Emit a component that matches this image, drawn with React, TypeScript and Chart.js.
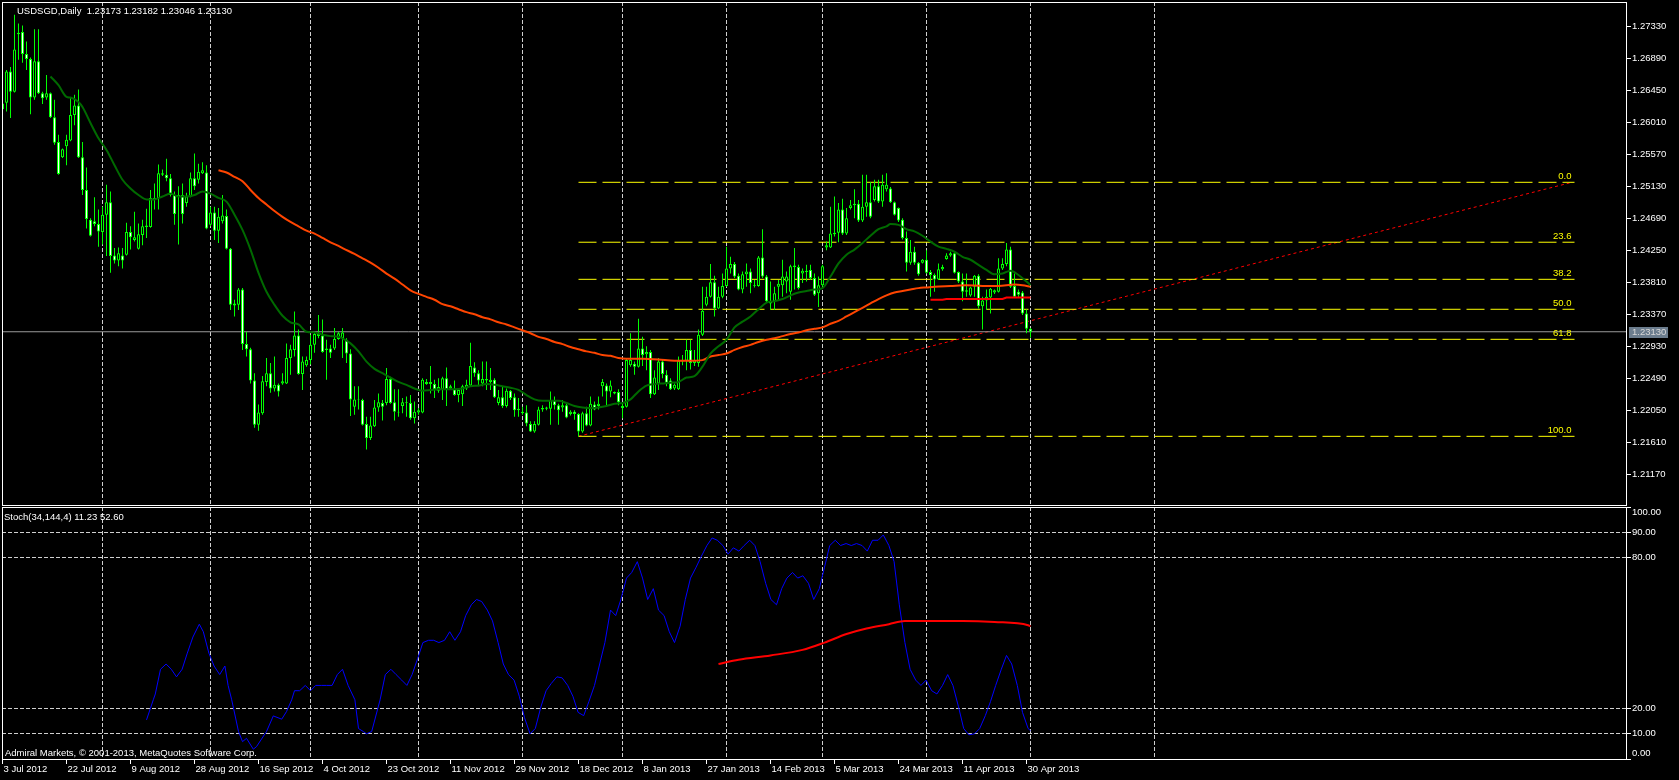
import React, { useEffect, useRef } from 'react';
import { Chart, registerables } from 'chart.js';

Chart.register(...registerables);

const FONT_FAMILY = '"Liberation Sans", Arial, sans-serif';
const FONT_SIZE = 9.5;
const GRID = '#cfcfcf';
const GRID_DASH = [4, 2];

// ---------- candles (one per trading day, bar index 0 = 3 Jul 2012) ----------
const barOpen = [
  1.2619,1.2628,1.2671,1.2643,1.2722,1.2725,1.2695,1.2688,1.2635,1.2685,
  1.2641,1.2635,1.2641,1.2608,1.2574,1.2553,1.2568,1.2576,1.2611,1.2624,
  1.2553,1.2508,1.2467,1.2465,1.2461,1.2450,1.2474,1.2491,1.2418,1.2411,
  1.2418,1.2419,1.2450,1.2439,1.2427,1.2446,1.2457,1.2457,1.2494,1.2497,
  1.2529,1.2529,1.2524,1.2501,1.2499,1.2501,1.2490,1.2499,1.2524,1.2522,
  1.2531,1.2532,1.2460,1.2477,1.2452,1.2465,1.2472,1.2427,1.2349,1.2350,
  1.2371,1.2296,1.2289,1.2246,1.2185,1.2201,1.2244,1.2256,1.2235,1.2240,
  1.2242,1.2242,1.2277,1.2288,1.2308,1.2255,1.2267,1.2274,1.2295,1.2307,
  1.2308,1.2288,1.2290,1.2290,1.2303,1.2304,1.2302,1.2283,1.2210,1.2220,
  1.2219,1.2186,1.2167,1.2183,1.2209,1.2215,1.2215,1.2248,1.2216,1.2203,
  1.2211,1.2216,1.2215,1.2194,1.2202,1.2202,1.2244,1.2241,1.2241,1.2232,
  1.2234,1.2249,1.2235,1.2234,1.2226,1.2227,1.2235,1.2239,1.2264,1.2256,
  1.2242,1.2246,1.2244,1.2247,1.2215,1.2223,1.2211,1.2232,1.2223,1.2205,
  1.2203,1.2202,1.2186,1.2176,1.2185,1.2206,1.2207,1.2207,1.2219,1.2212,
  1.2209,1.2212,1.2200,1.2203,1.2200,1.2176,1.2201,1.2184,1.2213,1.2211,
  1.2238,1.2239,1.2231,1.2230,1.2230,1.2208,1.2210,1.2267,1.2269,1.2265,
  1.2290,1.2282,1.2285,1.2227,1.2242,1.2272,1.2254,1.2246,1.2235,1.2234,
  1.2272,1.2273,1.2288,1.2270,1.2270,1.2309,1.2350,1.2361,1.2381,1.2345,
  1.2361,1.2376,1.2400,1.2406,1.2390,1.2371,1.2392,1.2396,1.2377,1.2376,
  1.2415,1.2389,1.2352,1.2355,1.2375,1.2377,1.2382,1.2368,1.2402,1.2402,
  1.2393,1.2395,1.2398,1.2387,1.2366,1.2377,1.2429,1.2429,1.2447,1.2449,
  1.2481,1.2448,1.2483,1.2487,1.2489,1.2466,1.2485,1.2491,1.2494,1.2513,
  1.2492,1.2509,1.2510,1.2491,1.2483,1.2467,1.2442,1.2408,1.2423,1.2408,
  1.2408,1.2412,1.2395,1.2391,1.2385,1.2399,1.2413,1.2418,1.2421,1.2395,
  1.2382,1.2368,1.2363,1.2375,1.2390,1.2348,1.2356,1.2360,1.2367,1.2368,
  1.2400,1.2406,1.2426,1.2376,1.2368,1.2367,1.2338,1.23173,
];
const barHigh = [
  1.2630,1.2673,1.2677,1.2749,1.2737,1.2734,1.2712,1.2690,1.2729,1.2729,
  1.2643,1.2666,1.2642,1.2632,1.2584,1.2565,1.2584,1.2634,1.2639,1.2646,
  1.2574,1.2539,1.2469,1.2498,1.2481,1.2485,1.2515,1.2506,1.2428,1.2429,
  1.2428,1.2463,1.2458,1.2478,1.2462,1.2467,1.2482,1.2508,1.2517,1.2543,
  1.2536,1.2551,1.2530,1.2506,1.2513,1.2517,1.2504,1.2532,1.2558,1.2544,
  1.2546,1.2542,1.2485,1.2485,1.2483,1.2501,1.2481,1.2428,1.2357,1.2373,
  1.2373,1.2313,1.2291,1.2256,1.2213,1.2252,1.2277,1.2270,1.2279,1.2242,
  1.2256,1.2297,1.2295,1.2341,1.2316,1.2279,1.2279,1.2309,1.2312,1.2336,
  1.2330,1.2302,1.2295,1.2318,1.2313,1.2318,1.2304,1.2289,1.2238,1.2238,
  1.2221,1.2196,1.2196,1.2219,1.2228,1.2219,1.2263,1.2251,1.2234,1.2234,
  1.2222,1.2224,1.2226,1.2217,1.2208,1.2249,1.2248,1.2266,1.2247,1.2249,
  1.2251,1.2264,1.2240,1.2246,1.2235,1.2240,1.2247,1.2298,1.2271,1.2260,
  1.2272,1.2272,1.2263,1.2249,1.2233,1.2238,1.2235,1.2233,1.2228,1.2222,
  1.2210,1.2212,1.2190,1.2190,1.2210,1.2212,1.2210,1.2231,1.2224,1.2214,
  1.2219,1.2214,1.2205,1.2205,1.2201,1.2203,1.2210,1.2224,1.2217,1.2224,
  1.2248,1.2242,1.2246,1.2231,1.2234,1.2214,1.2277,1.2311,1.2272,1.2331,
  1.2306,1.2293,1.2288,1.2260,1.2277,1.2274,1.2260,1.2249,1.2242,1.2279,
  1.2281,1.2302,1.2302,1.2288,1.2316,1.2375,1.2375,1.2406,1.2390,1.2375,
  1.2393,1.2430,1.2416,1.2409,1.2393,1.2396,1.2407,1.2400,1.2384,1.2417,
  1.2454,1.2391,1.2382,1.2375,1.2384,1.2412,1.2396,1.2405,1.2428,1.2405,
  1.2400,1.2405,1.2405,1.2393,1.2389,1.2405,1.2437,1.2485,1.2499,1.2490,
  1.2496,1.2483,1.2494,1.2509,1.2494,1.2529,1.2529,1.2519,1.2522,1.2522,
  1.2529,1.2531,1.2512,1.2492,1.2484,1.2469,1.2451,1.2439,1.2430,1.2409,
  1.2413,1.2425,1.2398,1.2393,1.2407,1.2405,1.2421,1.2423,1.2423,1.2396,
  1.2393,1.2393,1.2375,1.2391,1.2392,1.2361,1.2371,1.2373,1.2371,1.2414,
  1.2414,1.2435,1.2430,1.2393,1.2371,1.2369,1.2344,1.23182,
];
const barLow = [
  1.2618,1.2616,1.2607,1.2642,1.2687,1.2683,1.2673,1.2612,1.2632,1.2640,
  1.2626,1.2632,1.2607,1.2570,1.2529,1.2552,1.2542,1.2575,1.2597,1.2552,
  1.2501,1.2455,1.2444,1.2458,1.2430,1.2433,1.2417,1.2394,1.2407,1.2403,
  1.2400,1.2418,1.2426,1.2437,1.2426,1.2432,1.2442,1.2456,1.2481,1.2481,
  1.2527,1.2520,1.2499,1.2460,1.2433,1.2462,1.2485,1.2498,1.2508,1.2517,
  1.2530,1.2454,1.2458,1.2439,1.2435,1.2462,1.2426,1.2343,1.2334,1.2343,
  1.2288,1.2279,1.2242,1.2181,1.2177,1.2199,1.2238,1.2229,1.2231,1.2224,
  1.2240,1.2241,1.2254,1.2279,1.2254,1.2233,1.2265,1.2268,1.2284,1.2304,
  1.2284,1.2247,1.2277,1.2288,1.2302,1.2277,1.2270,1.2197,1.2199,1.2206,
  1.2184,1.2151,1.2164,1.2182,1.2203,1.2191,1.2212,1.2214,1.2191,1.2196,
  1.2201,1.2196,1.2192,1.2187,1.2199,1.2201,1.2240,1.2228,1.2222,1.2229,
  1.2219,1.2211,1.2233,1.2225,1.2216,1.2211,1.2233,1.2238,1.2251,1.2238,
  1.2238,1.2233,1.2233,1.2222,1.2212,1.2208,1.2209,1.2219,1.2196,1.2196,
  1.2199,1.2183,1.2175,1.2174,1.2184,1.2203,1.2205,1.2185,1.2206,1.2185,
  1.2203,1.2194,1.2198,1.2192,1.2169,1.2174,1.2183,1.2183,1.2205,1.2206,
  1.2224,1.2211,1.2223,1.2227,1.2212,1.2194,1.2209,1.2265,1.2254,1.2264,
  1.2266,1.2260,1.2222,1.2226,1.2233,1.2249,1.2238,1.2233,1.2233,1.2233,
  1.2267,1.2260,1.2261,1.2266,1.2265,1.2307,1.2348,1.2360,1.2334,1.2344,
  1.2359,1.2375,1.2393,1.2387,1.2370,1.2366,1.2375,1.2366,1.2374,1.2375,
  1.2387,1.2353,1.2343,1.2343,1.2357,1.2361,1.2366,1.2357,1.2371,1.2371,
  1.2380,1.2382,1.2384,1.2362,1.2347,1.2375,1.2425,1.2428,1.2444,1.2436,
  1.2446,1.2446,1.2481,1.2469,1.2464,1.2464,1.2471,1.2469,1.2492,1.2490,
  1.2485,1.2506,1.2490,1.2473,1.2464,1.2440,1.2396,1.2405,1.2405,1.2390,
  1.2407,1.2393,1.2361,1.2368,1.2384,1.2397,1.2412,1.2416,1.2393,1.2380,
  1.2355,1.2361,1.2361,1.2361,1.2345,1.2316,1.2343,1.2338,1.2365,1.2367,
  1.2398,1.2403,1.2373,1.2360,1.2360,1.2336,1.2311,1.23046,
];
const barClose = [
  1.2627,1.2671,1.2643,1.2701,1.2724,1.2695,1.2688,1.2635,1.2685,1.2641,
  1.2634,1.2641,1.2608,1.2573,1.2530,1.2564,1.2577,1.2611,1.2624,1.2553,
  1.2508,1.2468,1.2445,1.2461,1.2451,1.2474,1.2491,1.2417,1.2411,1.2421,
  1.2411,1.2450,1.2443,1.2443,1.2447,1.2458,1.2459,1.2497,1.2497,1.2531,
  1.2531,1.2524,1.2501,1.2475,1.2501,1.2475,1.2499,1.2524,1.2513,1.2533,
  1.2535,1.2455,1.2477,1.2452,1.2471,1.2473,1.2427,1.2350,1.2352,1.2371,
  1.2296,1.2289,1.2246,1.2185,1.2202,1.2245,1.2256,1.2235,1.2240,1.2231,
  1.2245,1.2277,1.2289,1.2308,1.2255,1.2272,1.2274,1.2295,1.2310,1.2310,
  1.2285,1.2290,1.2284,1.2303,1.2311,1.2312,1.2283,1.2220,1.2220,1.2219,
  1.2185,1.2167,1.2184,1.2209,1.2216,1.2210,1.2248,1.2215,1.2203,1.2202,
  1.2216,1.2215,1.2194,1.2203,1.2205,1.2247,1.2241,1.2244,1.2234,1.2237,
  1.2249,1.2234,1.2238,1.2226,1.2233,1.2238,1.2240,1.2266,1.2256,1.2246,
  1.2248,1.2248,1.2247,1.2223,1.2223,1.2211,1.2232,1.2222,1.2205,1.2207,
  1.2201,1.2187,1.2176,1.2186,1.2206,1.2208,1.2209,1.2219,1.2212,1.2205,
  1.2212,1.2195,1.2203,1.2200,1.2176,1.2201,1.2184,1.2214,1.2206,1.2214,
  1.2244,1.2231,1.2239,1.2228,1.2216,1.2211,1.2274,1.2274,1.2265,1.2290,
  1.2281,1.2285,1.2227,1.2250,1.2272,1.2255,1.2243,1.2234,1.2240,1.2273,
  1.2274,1.2288,1.2270,1.2274,1.2309,1.2342,1.2361,1.2381,1.2345,1.2361,
  1.2376,1.2400,1.2406,1.2389,1.2371,1.2392,1.2396,1.2380,1.2376,1.2415,
  1.2389,1.2355,1.2355,1.2366,1.2379,1.2389,1.2389,1.2403,1.2404,1.2373,
  1.2397,1.2397,1.2387,1.2364,1.2377,1.2403,1.2432,1.2448,1.2449,1.2481,
  1.2448,1.2469,1.2487,1.2489,1.2466,1.2485,1.2491,1.2471,1.2513,1.2492,
  1.2515,1.2515,1.2491,1.2474,1.2466,1.2442,1.2408,1.2423,1.2408,1.2392,
  1.2412,1.2394,1.2391,1.2385,1.2399,1.2402,1.2418,1.2421,1.2394,1.2382,
  1.2368,1.2370,1.2374,1.2390,1.2348,1.2356,1.2361,1.2372,1.2370,1.2400,
  1.2406,1.2426,1.2375,1.2361,1.2364,1.2338,1.2317,1.23130,
];

// ---------- moving averages: [bar, price] ----------
const maFast = [
  [12,1.2664],[14,1.2652],[16,1.2636],[17,1.2635],[19,1.2629],[20,1.2622],[22,1.2600],[24,1.2579],
  [26,1.2563],[28,1.2542],[30,1.2522],[32,1.2510],[34,1.2501],[36,1.2495],[38,1.2495],[40,1.2499],
  [42,1.2503],[44,1.2499],[46,1.2499],[48,1.2501],[50,1.2506],[52,1.2503],[54,1.2497],[56,1.2492],
  [58,1.2474],[60,1.2453],[62,1.2426],[64,1.2394],[66,1.2368],[68,1.2350],[70,1.2335],[72,1.2326],
  [74,1.2323],[76,1.2313],[78,1.2312],[80,1.2309],[82,1.2307],[84,1.2306],[85,1.2304],[87,1.2297],
  [89,1.2286],[91,1.2272],[93,1.2262],[95,1.2256],[97,1.2250],[99,1.2244],[101,1.2240],[103,1.2235],
  [105,1.2232],[107,1.2233],[109,1.2234],[111,1.2234],[113,1.2234],[115,1.2235],[117,1.2238],[119,1.2239],
  [121,1.2241],[123,1.2240],[125,1.2238],[127,1.2236],[129,1.2233],[131,1.2226],[133,1.2220],[135,1.2218],
  [137,1.2218],[139,1.2218],[141,1.2215],[143,1.2211],[145,1.2209],[147,1.2208],[149,1.2209],[151,1.2211],
  [153,1.2214],[155,1.2215],[157,1.2220],[159,1.2231],[161,1.2239],[163,1.2241],[165,1.2242],[167,1.2243],
  [169,1.2244],[171,1.2250],[173,1.2252],[175,1.2265],[177,1.2283],[179,1.2293],[181,1.2302],[183,1.2319],
  [185,1.2327],[187,1.2334],[189,1.2344],[191,1.2353],[193,1.2355],[195,1.2358],[197,1.2363],[199,1.2367],
  [201,1.2369],[203,1.2371],[205,1.2373],[207,1.2389],[209,1.2407],[211,1.2419],[213,1.2426],[215,1.2435],
  [217,1.2445],[219,1.2454],[221,1.2458],[222,1.2461],[224,1.2460],[226,1.2454],[228,1.2451],[230,1.2445],
  [232,1.2437],[234,1.2430],[236,1.2427],[238,1.2423],[240,1.2416],[242,1.2412],[244,1.2405],[246,1.2398],
  [248,1.2392],[250,1.2393],[252,1.2397],[254,1.2391],[256,1.2382],[257,1.2377],
];
const maMid = [
  [54,1.2535],[56,1.2532],[58,1.2526],[60,1.2520],[62,1.2508],[64,1.2497],[66,1.2488],[68,1.2479],
  [70,1.2471],[72,1.2464],[74,1.2458],[76,1.2452],[78,1.2448],[80,1.2442],[82,1.2436],[84,1.2431],
  [85,1.2428],[88,1.2420],[90,1.2414],[92,1.2408],[94,1.2401],[96,1.2393],[98,1.2386],[100,1.2378],
  [102,1.2370],[104,1.2365],[106,1.2361],[108,1.2357],[110,1.2351],[112,1.2348],[114,1.2344],[116,1.2340],
  [118,1.2337],[120,1.2333],[122,1.2330],[124,1.2326],[126,1.2323],[128,1.2319],[130,1.2315],[132,1.2311],
  [134,1.2306],[136,1.2303],[138,1.2299],[140,1.2296],[142,1.2292],[144,1.2289],[146,1.2286],[148,1.2284],
  [150,1.2281],[152,1.2280],[154,1.2277],[156,1.2276],[160,1.2276],[164,1.2275],[168,1.2273],[172,1.2273],
  [175,1.2274],[177,1.2279],[179,1.2281],[181,1.2283],[183,1.2288],[185,1.2292],[187,1.2295],[189,1.2299],
  [191,1.2302],[193,1.2304],[195,1.2307],[197,1.2310],[199,1.2312],[201,1.2315],[203,1.2317],[205,1.2319],
  [207,1.2324],[209,1.2328],[211,1.2334],[213,1.2340],[215,1.2346],[217,1.2352],[219,1.2358],[221,1.2363],
  [223,1.2367],[225,1.2369],[227,1.2371],[229,1.2373],[231,1.2374],[233,1.2375],[237,1.2376],[241,1.2377],
  [245,1.2376],[249,1.2376],[253,1.2378],[255,1.2377],[257,1.2375],
];
const maSlow = [
  [232,1.2357],[235,1.2357],[236,1.2358],[250,1.2358],[251,1.2360],[257,1.2360],
];

// ---------- Stochastic(34,144,4): [bar, value] ----------
const stochMain = [
  [36.0,15.5],[37.7,23.5],[38.2,25.8],[39.5,35.6],[40.9,37.7],[42.2,35.6],[43.5,32.6],[44.9,35.6],
  [46.2,42.0],[47.6,48.4],[49.2,53.5],[50.2,50.5],[51.6,42.0],[52.9,36.9],[54.3,33.5],[55.6,36.9],
  [56.4,29.2],[57.3,23.5],[59.0,10.9],[60.0,6.9],[61.0,8.2],[62.7,3.9],[63.5,4.9],[66.0,10.9],
  [67.7,17.1],[69.8,15.8],[71.0,18.8],[72.3,23.5],[73.0,27.1],[74.3,27.1],[75.7,29.2],[77.0,27.1],
  [78.3,29.2],[79.7,29.2],[81.0,29.2],[82.4,29.2],[83.7,33.5],[85.0,35.6],[86.4,29.2],[88.1,23.5],
  [89.0,12.1],[90.2,10.9],[91.0,10.0],[92.3,10.9],[94.4,23.5],[95.7,33.5],[97.1,35.6],[98.4,33.5],
  [99.8,31.3],[101.1,29.2],[102.4,33.5],[103.8,39.9],[105.1,46.2],[106.5,47.1],[107.8,47.1],[109.1,46.2],
  [110.5,47.1],[111.8,50.5],[113.1,47.1],[114.5,50.5],[115.8,56.9],[117.2,61.2],[118.5,63.3],[119.8,62.5],
  [121.2,59.1],[122.5,54.8],[123.9,46.2],[125.2,37.7],[126.5,33.5],[127.9,31.3],[129.2,24.9],[130.5,16.4],
  [131.9,10.0],[133.2,12.1],[134.6,20.7],[135.9,27.1],[137.2,30.0],[138.6,32.6],[139.9,32.2],[141.3,29.2],
  [142.6,24.9],[143.9,18.5],[145.3,17.2],[146.6,22.8],[148.0,29.2],[149.3,37.7],[150.6,46.2],[152.0,59.1],
  [153.3,56.9],[154.6,63.3],[156.0,71.8],[157.3,74.0],[158.7,78.3],[160.0,71.8],[161.3,63.3],[162.7,67.6],
  [164.0,59.1],[165.4,56.9],[166.7,50.5],[168.0,46.2],[169.4,52.7],[170.7,63.3],[172.0,71.8],[173.4,76.1],
  [174.7,80.4],[176.1,84.7],[177.4,87.7],[178.7,86.8],[180.1,84.7],[181.4,81.3],[182.7,83.8],[184.1,82.5],
  [185.4,84.7],[186.8,86.8],[188.1,84.7],[189.4,78.3],[190.8,69.7],[192.1,63.3],[193.5,61.2],[194.8,67.6],
  [196.1,71.8],[197.5,74.0],[198.8,71.8],[200.1,72.7],[201.5,69.7],[202.8,63.3],[204.2,67.6],[205.5,76.1],
  [206.8,84.7],[208.2,86.8],[209.5,84.7],[210.9,85.5],[212.2,84.7],[213.5,85.5],[214.9,84.7],[216.2,82.5],
  [217.5,86.8],[218.9,86.8],[220.2,88.9],[221.6,84.7],[222.9,78.3],[224.2,61.2],[225.6,46.2],[226.9,35.6],
  [228.3,31.3],[229.6,29.2],[230.9,31.3],[232.3,27.1],[233.6,25.8],[235.0,29.2],[236.3,33.5],[237.6,29.2],
  [239.0,20.7],[240.3,12.1],[241.6,9.6],[243.0,10.0],[244.3,12.1],[245.7,17.2],[247.0,22.8],[248.3,29.2],
  [249.7,35.6],[251.0,41.1],[252.3,37.7],[253.7,29.2],[255.0,18.5],[256.4,12.1],[257.0,11.23],
];
const stochSignal = [
  [179,37.7],[184,39.4],[192,41.1],[200,43.3],[205.5,46.2],[211,49.6],[216,51.8],[221.6,53.5],
  [225.6,54.8],[232,54.8],[240,54.8],[248,54.4],[256.4,53.1],[257,52.6],
];

// ---------- axes ----------
const dateTickBars = [0,16,32,48,64,80,96,112,128,144,160,176,192,208,224,240,256];
const dateTickLabels = [
  '3 Jul 2012','22 Jul 2012','9 Aug 2012','28 Aug 2012','16 Sep 2012','4 Oct 2012',
  '23 Oct 2012','11 Nov 2012','29 Nov 2012','18 Dec 2012','8 Jan 2013','27 Jan 2013',
  '14 Feb 2013','5 Mar 2013','24 Mar 2013','11 Apr 2013','30 Apr 2013',
];
const monthGridBars = [25,52,77,104,130,155,181,205,231,257,288];
const priceTicks = [1.2733,1.2689,1.2645,1.2601,1.2557,1.2513,1.2469,1.2425,1.2381,1.2337,1.2293,1.2249,1.2205,1.2161,1.2117];
const stochTicks = [100,90,80,20,10,0];
const stochLevels = [90,80,20,10];

// ---------- objects ----------
const fibLabels = ['0.0','23.6','38.2','50.0','61.8','100.0'];
const fibPrices = [1.25185,1.24361,1.23851,1.23439,1.23026,1.21692];
const fibStartBar = 144;
const fibEndBar = 393;
const trendLine = [[144,1.21692],[392.4,1.25185]];
const bidPrice = 1.2313;

const titleText = 'USDSGD,Daily  1.23173 1.23182 1.23046 1.23130';
const stochTitle = 'Stoch(34,144,4) 11.23 52.60';
const copyright = 'Admiral Markets, \u00A9 2001-2013, MetaQuotes Software Corp.';

const X_MIN = -0.125;
const X_MAX = 406.125;
const Y_MIN = 1.20748;
const Y_MAX = 1.27664;

const tickFont = { family: FONT_FAMILY, size: FONT_SIZE };
const fontStr = `${FONT_SIZE}px ${FONT_FAMILY}`;

const pts = (arr: number[][]) => arr.map(([x, y]) => ({ x, y }));

const mainDecor = {
  id: 'mainDecor',
  afterDraw(chart: any) {
    const { ctx, chartArea: a, scales } = chart;
    const xs = scales.x, ys = scales.y;
    ctx.save();
    ctx.setLineDash([]);
    ctx.strokeStyle = '#ffffff';
    ctx.lineWidth = 1;
    ctx.strokeRect(a.left + 0.5, a.top + 0.5, a.right - a.left - 1, a.bottom - a.top);
    ctx.font = fontStr;
    ctx.fillStyle = '#ffffff';
    ctx.textAlign = 'left';
    ctx.textBaseline = 'alphabetic';
    ctx.fillText(titleText, 17, 13.5);
    // fibo labels
    ctx.fillStyle = '#ffff00';
    ctx.textAlign = 'right';
    const fx = xs.getPixelForValue(fibEndBar) - 3;
    fibPrices.forEach((p, i) => {
      ctx.fillText(fibLabels[i], fx, ys.getPixelForValue(p) - 3);
    });
    // bid label on the axis
    const by = Math.round(ys.getPixelForValue(bidPrice));
    ctx.fillStyle = '#6c7d8e';
    ctx.fillRect(a.right + 2, by - 5, 39, 11);
    ctx.fillStyle = '#d8d8d8';
    ctx.textAlign = 'left';
    ctx.textBaseline = 'middle';
    ctx.fillText(bidPrice.toFixed(5), a.right + 5, by + 0.5);
    ctx.restore();
  },
};

const stochDecor = {
  id: 'stochDecor',
  afterDraw(chart: any) {
    const { ctx, chartArea: a, scales } = chart;
    const ys = scales.y;
    ctx.save();
    ctx.setLineDash([]);
    ctx.strokeStyle = '#ffffff';
    ctx.lineWidth = 1;
    ctx.strokeRect(a.left + 0.5, a.top + 0.5, a.right - a.left - 1, a.bottom - a.top);
    ctx.font = fontStr;
    ctx.fillStyle = '#ffffff';
    ctx.textAlign = 'left';
    ctx.textBaseline = 'middle';
    ctx.fillText('100.00', a.right + 5, ys.getPixelForValue(100) + 5.5);
    ctx.fillText('0.00', a.right + 5, ys.getPixelForValue(0) - 6);
    ctx.textBaseline = 'alphabetic';
    ctx.fillText(stochTitle, 4, a.top + 13);
    ctx.fillText(copyright, 5, a.bottom - 3);
    ctx.restore();
  },
};

function monthGridAxis(position: string) {
  return {
    type: 'linear',
    position,
    min: X_MIN,
    max: X_MAX,
    offset: false,
    afterBuildTicks: (s: any) => { s.ticks = monthGridBars.map((v) => ({ value: v })); },
    afterFit: (s: any) => { s.height = 0; s.paddingLeft = 0; s.paddingRight = 0; },
    ticks: { display: false },
    grid: { display: true, offset: false, color: GRID, lineWidth: 1, drawTicks: false, drawOnChartArea: true, borderDash: GRID_DASH },
    border: { display: false, dash: GRID_DASH },
  };
}

function buildMain(canvas: HTMLCanvasElement) {
  const bodies = barOpen.map((o, i) => ({ x: i, y: [o, barClose[i]] }));
  const bodyColors = barOpen.map((o, i) => (barClose[i] >= o ? '#000000' : '#ffffff'));
  const wicks = barOpen.map((o, i) => ({
    x: i,
    y: [Math.min(barLow[i], o, barClose[i]), Math.max(barHigh[i], o, barClose[i])],
  }));
  const datasets: any[] = [
    { type: 'line', data: pts(maFast), borderColor: '#006a00', borderWidth: 2, pointRadius: 0, cubicInterpolationMode: 'monotone', order: 1 },
    { type: 'line', data: pts(maMid), borderColor: '#ff4500', borderWidth: 2, pointRadius: 0, cubicInterpolationMode: 'monotone', order: 2 },
    { type: 'line', data: pts(maSlow), borderColor: '#ff0000', borderWidth: 2, pointRadius: 0, order: 3 },
    { type: 'bar', data: bodies, backgroundColor: bodyColors, borderColor: '#00ff00', borderWidth: 1, borderSkipped: false, barThickness: 3, grouped: false, inflateAmount: 0, order: 4 },
    { type: 'bar', data: wicks, backgroundColor: '#00ff00', borderWidth: 0, barThickness: 1, grouped: false, inflateAmount: 0, order: 5 },
    { type: 'line', data: [{ x: X_MIN, y: bidPrice }, { x: X_MAX, y: bidPrice }], borderColor: '#9a9a9a', borderWidth: 1, pointRadius: 0, order: 6 },
    ...fibPrices.map((p) => ({
      type: 'line', data: [{ x: fibStartBar, y: p }, { x: fibEndBar, y: p }],
      borderColor: '#ffff00', borderWidth: 1, borderDash: [18, 6], pointRadius: 0, order: 7,
    })),
    { type: 'line', data: pts(trendLine), borderColor: '#ff0000', borderWidth: 1, borderDash: [3, 3], pointRadius: 0, order: 8 },
  ];
  return new Chart(canvas, {
    type: 'bar',
    data: { datasets },
    plugins: [mainDecor],
    options: {
      responsive: false,
      animation: false,
      devicePixelRatio: 1,
      events: [],
      layout: { padding: { left: 2, top: 2, right: 0, bottom: 1 } },
      plugins: { legend: { display: false }, tooltip: { enabled: false }, title: { display: false } },
      scales: {
        x: monthGridAxis('bottom'),
        y: {
          type: 'linear',
          position: 'right',
          min: Y_MIN,
          max: Y_MAX,
          afterBuildTicks: (s: any) => { s.ticks = priceTicks.map((v) => ({ value: v })); },
          afterFit: (s: any) => { s.width = 52; s.paddingTop = 0; s.paddingBottom = 0; },
          ticks: { color: '#ffffff', font: tickFont, padding: 1, autoSkip: false, callback: (v: any) => Number(v).toFixed(5) },
          grid: { drawOnChartArea: false, drawTicks: true, tickLength: 4, tickColor: '#ffffff', color: '#ffffff', tickBorderDash: [] },
          border: { display: false },
        },
      },
    } as any,
  } as any);
}

function buildStoch(canvas: HTMLCanvasElement) {
  return new Chart(canvas, {
    type: 'line',
    data: {
      datasets: [
        { data: pts(stochMain), borderColor: '#0000ff', borderWidth: 1, pointRadius: 0, tension: 0, order: 2 },
        { data: pts(stochSignal), borderColor: '#ff0000', borderWidth: 2, pointRadius: 0, cubicInterpolationMode: 'monotone', order: 1 },
      ],
    },
    plugins: [stochDecor],
    options: {
      responsive: false,
      animation: false,
      devicePixelRatio: 1,
      events: [],
      layout: { padding: { left: 2, top: 27, right: 0, bottom: 0 } },
      plugins: { legend: { display: false }, tooltip: { enabled: false }, title: { display: false } },
      scales: {
        x: {
          type: 'linear',
          position: 'bottom',
          min: X_MIN,
          max: X_MAX,
          offset: false,
          afterBuildTicks: (s: any) => { s.ticks = dateTickBars.map((v) => ({ value: v })); },
          afterFit: (s: any) => { s.height = 21; s.paddingLeft = 0; s.paddingRight = 0; },
          ticks: {
            color: '#ffffff', font: tickFont, align: 'start', labelOffset: 1, padding: 0,
            maxRotation: 0, minRotation: 0, autoSkip: false,
            callback: (_v: any, i: number) => dateTickLabels[i],
          },
          grid: { drawOnChartArea: false, drawTicks: true, tickLength: 5, tickColor: '#ffffff', color: '#ffffff', offset: false, tickBorderDash: [] },
          border: { display: false },
        },
        x2: monthGridAxis('top'),
        y: {
          type: 'linear',
          position: 'right',
          min: 0,
          max: 100,
          afterBuildTicks: (s: any) => { s.ticks = stochTicks.map((v) => ({ value: v })); },
          afterFit: (s: any) => { s.width = 52; s.paddingTop = 0; s.paddingBottom = 0; },
          ticks: {
            color: '#ffffff', font: tickFont, padding: 1, autoSkip: false,
            callback: (v: any) => (v === 0 || v === 100 ? '' : Number(v).toFixed(2)),
          },
          grid: {
            drawOnChartArea: true, drawTicks: true, tickLength: 4, tickColor: '#ffffff',
            color: (c: any) => (c.tick && stochLevels.includes(c.tick.value) ? GRID : 'rgba(0,0,0,0)'),
            borderDash: GRID_DASH, tickBorderDash: [],
          },
          border: { display: false, dash: GRID_DASH },
        },
      },
    } as any,
  } as any);
}

export default function App() {
  const mainRef = useRef<HTMLCanvasElement>(null);
  const stochRef = useRef<HTMLCanvasElement>(null);
  useEffect(() => {
    document.body.style.margin = '0';
    document.body.style.background = '#000000';
    const c1 = buildMain(mainRef.current as HTMLCanvasElement);
    const c2 = buildStoch(stochRef.current as HTMLCanvasElement);
    return () => { c1.destroy(); c2.destroy(); };
  }, []);
  return (
    <div style={{ position: 'fixed', left: 0, top: 0, width: 1679, height: 780, background: '#000000', overflow: 'hidden' }}>
      <canvas ref={mainRef} width={1679} height={506} style={{ position: 'absolute', left: 0, top: 0, width: 1679, height: 506 }} />
      <canvas ref={stochRef} width={1679} height={300} style={{ position: 'absolute', left: 0, top: 480, width: 1679, height: 300 }} />
    </div>
  );
}
